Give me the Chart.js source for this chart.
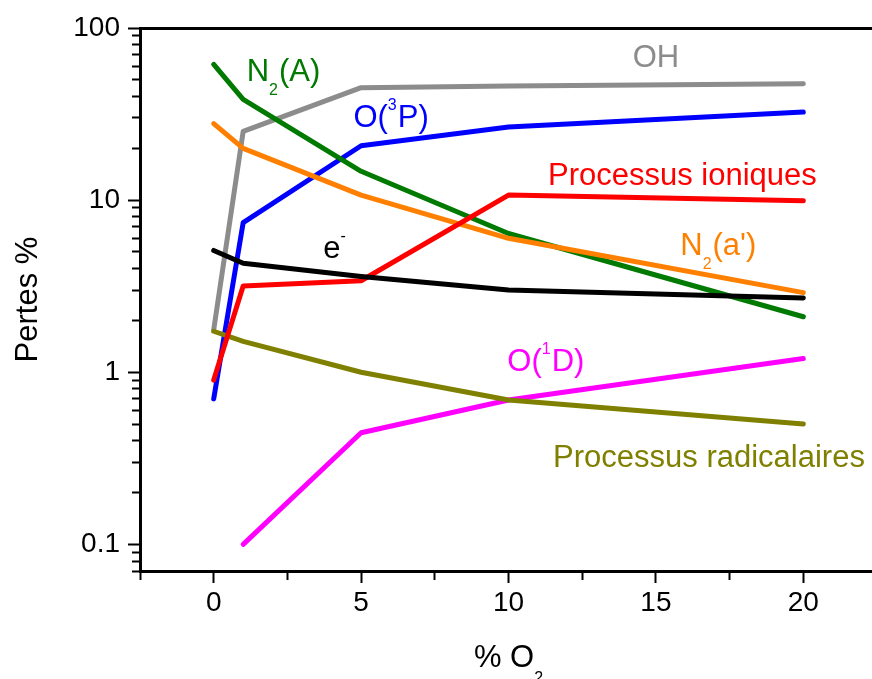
<!DOCTYPE html>
<html>
<head>
<meta charset="utf-8">
<script src="https://cdn.jsdelivr.net/npm/chart.js@4/dist/chart.umd.min.js"></script>
<style>
  html, body { margin: 0; padding: 0; background: #fff; overflow: hidden; }
  #wrap { width: 880px; height: 679px; }
</style>
</head>
<body>
<div id="wrap"><canvas id="myChart"></canvas></div>
<script>
'use strict';

// data (% O2 -> losses %)
const xValues = [0, 1, 5, 10, 20];
const n2A = [61.5, 38.5, 14.7, 6.4, 2.1];
const oh = [1.76, 25.1, 45, 46, 47.5];
const o3P = [0.70, 7.4, 20.7, 26.6, 32.5];
const n2aPrime = [27.8, 20, 10.7, 6.0, 2.9];
const ioniques = [0.9, 3.17, 3.4, 10.7, 9.9];
const electrons = [5.1, 4.3, 3.6, 3.0, 2.7];
const radicalaires = [1.73, 1.51, 1.0, 0.69, 0.50];
const o1D = [null, 0.1, 0.445, 0.69, 1.2];

// axis ticks
const xTicks = [-2.5, 0, 2.5, 5, 7.5, 10, 12.5, 15, 17.5, 20, 22.5];
const xLabels = [0, 5, 10, 15, 20];
const yTicks = [0.07, 0.08, 0.09,
  0.1, 0.2, 0.3, 0.4, 0.5, 0.6, 0.7, 0.8, 0.9,
  1, 2, 3, 4, 5, 6, 7, 8, 9,
  10, 20, 30, 40, 50, 60, 70, 80, 90, 100];
const yLabels = [0.1, 1, 10, 100];

// curve labels, placed in data units
const curveLabels = [
  { parts: ['N', ['sub', '2'], '(A)'], x: 2.35, y: 57, color: '#007a00' },
  { parts: ['OH'], x: 15.0, y: 69, color: '#8c8c8c' },
  { parts: ['O(', ['sup', '3'], 'P)'], x: 6.0, y: 31, color: '#0000ff' },
  { parts: ['Processus ioniques'], x: 15.9, y: 14.3, color: '#ff0000' },
  { parts: ['N', ['sub', '2'], "(a')"], x: 17.1, y: 5.6, color: '#ff8000' },
  { parts: ['e', ['sup', '-']], x: 4.1, y: 5.35, color: '#000000' },
  { parts: ['O(', ['sup', '1'], 'D)'], x: 11.25, y: 1.18, color: '#ff00ff' },
  { parts: ['Processus radicalaires'], x: 16.8, y: 0.328, color: '#808000' }
];

const FONT = '"Liberation Sans", Arial, sans-serif';

function toPoints(arr) {
  return xValues.map((x, i) => ({ x: x, y: arr[i] }));
}

function isIn(list, v) {
  return list.some(l => Math.abs(l - v) < 1e-9 * Math.max(1, Math.abs(l)));
}

// draws "text with sub/superscripts" centred on (cx, cy)
function drawRich(ctx, parts, cx, cy, size, subShift) {
  const small = Math.round(size * 0.52);
  const pieces = parts.map(p => {
    if (Array.isArray(p)) return { kind: p[0], text: p[1], size: small };
    return { kind: 'normal', text: p, size: size };
  });
  let total = 0;
  pieces.forEach(p => {
    ctx.font = p.size + 'px ' + FONT;
    p.w = ctx.measureText(p.text).width;
    total += p.w;
  });
  let x = cx - total / 2;
  ctx.textAlign = 'left';
  ctx.textBaseline = 'alphabetic';
  const base = cy + size * 0.36;
  pieces.forEach(p => {
    ctx.font = p.size + 'px ' + FONT;
    let y = base;
    if (p.kind === 'sub') y = base + size * (subShift || 0.45);
    if (p.kind === 'sup') y = base - size * 0.55;
    ctx.fillText(p.text, x, y);
    x += p.w + (p.kind === 'normal' ? 0 : 1);
  });
}

const textPlugin = {
  id: 'textPlugin',
  afterDraw(chart) {
    const ctx = chart.ctx;
    const xs = chart.scales.x;
    const ys = chart.scales.y;
    const area = chart.chartArea;
    ctx.save();
    curveLabels.forEach(l => {
      ctx.fillStyle = l.color;
      drawRich(ctx, l.parts, xs.getPixelForValue(l.x), ys.getPixelForValue(l.y), 31);
    });
    // axis titles
    ctx.fillStyle = '#000';
    drawRich(ctx, ['% O', ['sub', '2']], (area.left + area.right) / 2, 656, 31, 0.5);
    ctx.translate(26, (area.top + area.bottom) / 2);
    ctx.rotate(-Math.PI / 2);
    drawRich(ctx, ['Pertes %'], 0, 0, 31);
    ctx.restore();
  }
};

const common = { borderWidth: 5, pointRadius: 0, tension: 0, fill: false,
  borderCapStyle: 'round', borderJoinStyle: 'round' };

const ctxChart = document.getElementById('myChart');
const chart = new Chart(ctxChart, {
  type: 'line',
  data: {
    datasets: [
      Object.assign({ label: 'e-', data: toPoints(electrons), borderColor: '#000000' }, common),
      Object.assign({ label: 'Processus ioniques', data: toPoints(ioniques), borderColor: '#ff0000' }, common),
      Object.assign({ label: 'Processus radicalaires', data: toPoints(radicalaires), borderColor: '#808000' }, common),
      Object.assign({ label: "N2(a')", data: toPoints(n2aPrime), borderColor: '#ff8000' }, common),
      Object.assign({ label: 'N2(A)', data: toPoints(n2A), borderColor: '#007a00' }, common),
      Object.assign({ label: 'OH', data: toPoints(oh), borderColor: '#8c8c8c' }, common),
      Object.assign({ label: 'O(3P)', data: toPoints(o3P), borderColor: '#0000ff' }, common),
      Object.assign({ label: 'O(1D)', data: toPoints(o1D), borderColor: '#ff00ff' }, common)
    ]
  },
  options: {
    responsive: true,
    maintainAspectRatio: false,
    animation: false,
    layout: { padding: { top: 28, right: 0, bottom: 0, left: 0 } },
    plugins: { legend: { display: false }, tooltip: { enabled: false } },
    scales: {
      x: {
        type: 'linear',
        position: 'bottom',
        min: -2.5,
        max: 22.5,
        afterBuildTicks: s => { s.ticks = xTicks.map(v => ({ value: v })); },
        afterFit: s => { s.height = 108; },
        border: { display: true, color: '#000', width: 3 },
        grid: {
          drawOnChartArea: false,
          drawTicks: true,
          tickLength: 12,
          tickWidth: 2,
          tickColor: '#000',
          tickBorderDash: c => (c.tick && isIn(xLabels, c.tick.value)) ? [] : [7, 100]
        },
        ticks: {
          autoSkip: false,
          maxRotation: 0,
          padding: 3,
          color: '#000',
          font: { family: FONT, size: 28 },
          callback: v => isIn(xLabels, v) ? String(v) : ''
        }
      },
      xTop: {
        type: 'linear',
        position: 'top',
        min: -2.5,
        max: 22.5,
        afterFit: s => { s.height = 0; },
        border: { display: true, color: '#000', width: 3 },
        grid: { display: false },
        ticks: { display: false }
      },
      y: {
        type: 'logarithmic',
        position: 'left',
        min: 0.07,
        max: 100,
        afterBuildTicks: s => { s.ticks = yTicks.map(v => ({ value: v })); },
        afterFit: s => { s.width = 140; },
        border: { display: true, color: '#000', width: 3 },
        grid: {
          drawOnChartArea: false,
          drawTicks: true,
          tickLength: 12,
          tickWidth: 2,
          tickColor: '#000',
          tickBorderDash: c => (c.tick && isIn(yLabels, c.tick.value)) ? [] : [0, 4, 7, 100]
        },
        ticks: {
          autoSkip: false,
          padding: 8,
          color: '#000',
          font: { family: FONT, size: 28 },
          callback: v => isIn(yLabels, v) ? String(v) : ''
        }
      }
    }
  },
  plugins: [textPlugin]
});
</script>
</body>
</html>
